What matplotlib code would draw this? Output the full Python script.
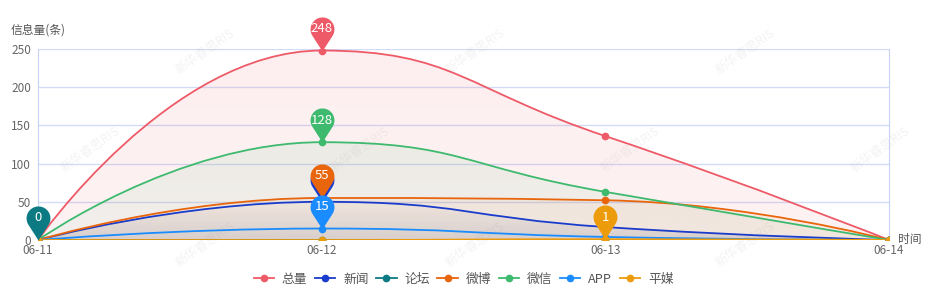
import numpy as np
import matplotlib.pyplot as plt
from matplotlib.path import Path
from matplotlib.patches import PathPatch
from matplotlib.colors import to_rgb

plt.rcParams['font.family'] = ['Noto Sans CJK SC', 'DejaVu Sans']

# datos
dates = ['06-11', '06-12', '06-13', '06-14']
names = ['总量', '新闻', '论坛', '微博', '微信', 'APP', '平媒']
total = [0, 248, 136, 0]
news = [0, 50, 17, 0]
forum = [0, 0, 0, 0]
weibo = [0, 55, 52, 0]
wechat = [0, 128, 63, 0]
app = [0, 15, 4, 0]
pingmei = [0, 0, 1, 0]
series = [total, news, forum, weibo, wechat, app, pingmei]
colors = ['#ee5a67', '#1a3ccc', '#0b7a83', '#e8650c', '#3dba6e', '#1a8cff', '#ec9b0b']
# (color de relleno, alpha arriba, alpha abajo)
fills = [('#ee5a67', 0.10, 0.08), ('#4a4a70', 0.0, 0.16), None, ('#e8650c', 0.06, 0.06),
         ('#3dba6e', 0.09, 0.05), None, None]

PX_X = 284.0   # px por dia
PX_Y = 0.764   # px por unidad


def smooth_path(xs, ys, smooth=0.5):
    # curva suavizada como echarts (calculada en pixeles)
    P = [(xs[i] * PX_X, ys[i] * PX_Y) for i in range(len(xs))]
    n = len(P)
    verts = [P[0]]
    codes = [Path.MOVETO]
    cp0 = P[0]
    for i in range(1, n):
        x, y = P[i]
        px, py = P[i - 1]
        if i == n - 1:
            cp1 = (x, y)
            ncp0 = (x, y)
        else:
            nx, ny = P[i + 1]
            vx, vy = nx - px, ny - py
            l0 = np.hypot(x - px, y - py)
            l1 = np.hypot(nx - x, ny - y)
            rt = l1 / (l0 + l1)
            ncx = x + vx * smooth * rt
            ncy = y + vy * smooth * rt
            ncx = max(min(ncx, max(nx, x)), min(nx, x))
            ncy = max(min(ncy, max(ny, y)), min(ny, y))
            vx, vy = ncx - x, ncy - y
            c1x = x - vx * l0 / l1
            c1y = y - vy * l0 / l1
            c1x = max(min(c1x, max(px, x)), min(px, x))
            c1y = max(min(c1y, max(py, y)), min(py, y))
            vx, vy = x - c1x, y - c1y
            ncp0 = (x + vx * l1 / l0, y + vy * l1 / l0)
            cp1 = (c1x, c1y)
        verts += [cp0, cp1, (x, y)]
        codes += [Path.CURVE4] * 3
        cp0 = ncp0
    verts = [(vx / PX_X, vy / PX_Y) for vx, vy in verts]
    return verts, codes


# forma de chincheta (punta en el origen)
r, c = 1.0, 1.85
a = np.arccos(r / c)
ang = np.linspace(-np.pi / 2 + a, 3 * np.pi / 2 - a, 40)
pin_verts = [(0, 0)] + [(r * np.cos(t), c + r * np.sin(t)) for t in ang] + [(0, 0)]
pin = Path(pin_verts, [Path.MOVETO] + [Path.LINETO] * 40 + [Path.CLOSEPOLY])

fig = plt.figure(figsize=(9.36, 2.96), dpi=100)
ax = fig.add_axes([38 / 936, 1 - 240 / 296, (889 - 38) / 936, 191 / 296])
x = np.arange(len(dates))

for k, (vals, col) in enumerate(zip(series, colors)):
    verts, codes = smooth_path(list(x), list(vals))
    if fills[k] is not None:
        fcol, at, ab = fills[k]
        fv = verts + [(x[-1], 0), (x[0], 0), verts[0]]
        fc = codes + [Path.LINETO, Path.LINETO, Path.CLOSEPOLY]
        patch = PathPatch(Path(fv, fc), facecolor='none', edgecolor='none')
        ax.add_patch(patch)
        vmax = max(vals)
        grad = np.zeros((100, 1, 4))
        grad[:, 0, :3] = to_rgb(fcol)
        grad[:, 0, 3] = np.linspace(at, ab, 100)
        im = ax.imshow(grad, extent=[x[0], x[-1], 0, vmax], aspect='auto',
                       origin='upper', zorder=1 + k * 0.01, interpolation='bilinear')
        im.set_clip_path(patch)
    ax.add_patch(PathPatch(Path(verts, codes), facecolor='none', edgecolor=col,
                           lw=1.3, zorder=3 + k * 0.01))
    ax.plot(x, vals, 'o', color=col, ms=4.5, zorder=4 + k * 0.01, label=names[k],
            ls='-', lw=0)

for k, (vals, col) in enumerate(zip(series, colors)):
    i = int(np.argmax(vals))
    ax.plot([x[i]], [vals[i]], marker=pin, ms=49, color=col, mec='none',
            zorder=10 + k, clip_on=False)
    if names[k] == '新闻':
        continue  # queda tapado por la chincheta de 微博
    ax.annotate(str(vals[i]), (x[i], vals[i]), xytext=(0, 15.9), textcoords='offset points',
                ha='center', va='center', color='white', fontsize=9.5, zorder=10.5 + k,
                annotation_clip=False)

ax.set_xlim(0, 3)
ax.set_ylim(0, 250)
ax.set_yticks([0, 50, 100, 150, 200, 250])
ax.set_xticks(x)
ax.set_xticklabels(dates)
ax.grid(axis='y', color='#d3dcf7', lw=1)
ax.set_axisbelow(True)
for s in ['top', 'bottom']:
    ax.spines[s].set_visible(False)
for s in ['left', 'right']:
    ax.spines[s].set_color('#c5d0f3')
ax.tick_params(axis='both', length=0, labelsize=8.5, colors='#666666')
ax.tick_params(axis='x', pad=3)
ax.tick_params(axis='y', pad=5)
fig.text(11 / 936, 1 - 30 / 296, '信息量(条)', fontsize=8.5, color='#555555',
         ha='left', va='center')
ax.text(1.011, 0, '时间', transform=ax.transAxes, fontsize=8.5, color='#555555',
        ha='left', va='center')

# marca de agua
for wx, wy in [(205, 52), (475, 52), (745, 52), (90, 150), (360, 150), (630, 150),
               (880, 150), (205, 245), (475, 245), (745, 245)]:
    ax.text(wx / 936, 1 - wy / 296, '新华睿思RIS', rotation=35, fontsize=9,
            color='#888888', alpha=0.1, ha='center', va='center', zorder=2,
            transform=fig.transFigure)

leg = ax.legend(loc='lower center', bbox_to_anchor=(0.5, -0.3), ncol=7, frameon=False,
                fontsize=9.2, handlelength=1.6, handletextpad=0.6, columnspacing=0.6,
                labelcolor='#555555')
for h in leg.get_lines():
    h.set_linewidth(1.3)

plt.savefig('out.png', dpi=100)
